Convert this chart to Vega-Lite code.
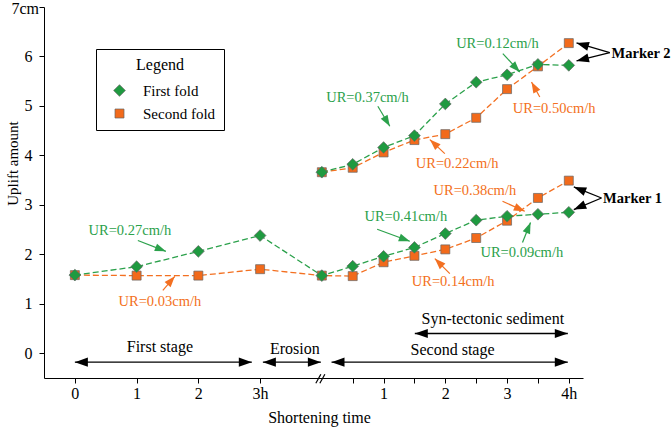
{
  "$schema": "https://vega.github.io/schema/vega-lite/v6.json",
  "width": 539,
  "height": 371,
  "autosize": {"type": "none"},
  "padding": {"left": 44, "top": 7, "right": 88, "bottom": 52},
  "background": "white",
  "config": {
    "view": {"stroke": null},
    "font": "Liberation Serif",
    "axis": {"grid": false, "domainColor": "black", "tickColor": "black", "labelColor": "black", "titleColor": "black", "titleFontWeight": "normal", "labelFont": "Liberation Serif", "titleFont": "Liberation Serif"}
  },
  "datasets": {
    "series": [
      {"series": "Second fold", "grp": "S-low", "t": 0, "y": 1.58},
      {"series": "Second fold", "grp": "S-low", "t": 1, "y": 1.57},
      {"series": "Second fold", "grp": "S-low", "t": 2, "y": 1.57},
      {"series": "Second fold", "grp": "S-low", "t": 3, "y": 1.70},
      {"series": "Second fold", "grp": "S-low", "t": 4, "y": 1.57},
      {"series": "Second fold", "grp": "S-low", "t": 4.5, "y": 1.56},
      {"series": "Second fold", "grp": "S-low", "t": 5, "y": 1.84},
      {"series": "Second fold", "grp": "S-low", "t": 5.5, "y": 1.97},
      {"series": "Second fold", "grp": "S-low", "t": 6, "y": 2.10},
      {"series": "Second fold", "grp": "S-low", "t": 6.5, "y": 2.33},
      {"series": "Second fold", "grp": "S-low", "t": 7, "y": 2.68},
      {"series": "Second fold", "grp": "S-low", "t": 7.5, "y": 3.14},
      {"series": "Second fold", "grp": "S-low", "t": 8, "y": 3.49},
      {"series": "Second fold", "grp": "S-up", "t": 4, "y": 3.66},
      {"series": "Second fold", "grp": "S-up", "t": 4.5, "y": 3.75},
      {"series": "Second fold", "grp": "S-up", "t": 5, "y": 4.06},
      {"series": "Second fold", "grp": "S-up", "t": 5.5, "y": 4.31},
      {"series": "Second fold", "grp": "S-up", "t": 6, "y": 4.43},
      {"series": "Second fold", "grp": "S-up", "t": 6.5, "y": 4.76},
      {"series": "Second fold", "grp": "S-up", "t": 7, "y": 5.34},
      {"series": "Second fold", "grp": "S-up", "t": 7.5, "y": 5.80},
      {"series": "Second fold", "grp": "S-up", "t": 8, "y": 6.27},
      {"series": "First fold", "grp": "F-low", "t": 0, "y": 1.58},
      {"series": "First fold", "grp": "F-low", "t": 1, "y": 1.75},
      {"series": "First fold", "grp": "F-low", "t": 2, "y": 2.06},
      {"series": "First fold", "grp": "F-low", "t": 3, "y": 2.38},
      {"series": "First fold", "grp": "F-low", "t": 4, "y": 1.57},
      {"series": "First fold", "grp": "F-low", "t": 4.5, "y": 1.76},
      {"series": "First fold", "grp": "F-low", "t": 5, "y": 1.96},
      {"series": "First fold", "grp": "F-low", "t": 5.5, "y": 2.14},
      {"series": "First fold", "grp": "F-low", "t": 6, "y": 2.42},
      {"series": "First fold", "grp": "F-low", "t": 6.5, "y": 2.69},
      {"series": "First fold", "grp": "F-low", "t": 7, "y": 2.77},
      {"series": "First fold", "grp": "F-low", "t": 7.5, "y": 2.81},
      {"series": "First fold", "grp": "F-low", "t": 8, "y": 2.85},
      {"series": "First fold", "grp": "F-up", "t": 4, "y": 3.66},
      {"series": "First fold", "grp": "F-up", "t": 4.5, "y": 3.82},
      {"series": "First fold", "grp": "F-up", "t": 5, "y": 4.16},
      {"series": "First fold", "grp": "F-up", "t": 5.5, "y": 4.40},
      {"series": "First fold", "grp": "F-up", "t": 6, "y": 5.04},
      {"series": "First fold", "grp": "F-up", "t": 6.5, "y": 5.48},
      {"series": "First fold", "grp": "F-up", "t": 7, "y": 5.63},
      {"series": "First fold", "grp": "F-up", "t": 7.5, "y": 5.84},
      {"series": "First fold", "grp": "F-up", "t": 8, "y": 5.82}
    ],
    "ur": [
      {"series": "First fold", "label": "UR=0.27cm/h", "lx": 0.891, "ly": 2.48, "tx": 1.02, "ty": 2.28, "hx": 1.474, "hy": 2.06, "angle": 111},
      {"series": "Second fold", "label": "UR=0.03cm/h", "lx": 1.377, "ly": 1.03, "tx": 1.425, "ty": 1.27, "hx": 1.619, "hy": 1.556, "angle": 41},
      {"series": "First fold", "label": "UR=0.37cm/h", "lx": 4.74, "ly": 5.16, "tx": 4.907, "ty": 4.993, "hx": 5.101, "hy": 4.589, "angle": 149},
      {"series": "First fold", "label": "UR=0.12cm/h", "lx": 6.845, "ly": 6.26, "tx": 6.931, "ty": 6.058, "hx": 7.206, "hy": 5.686, "angle": 137},
      {"series": "Second fold", "label": "UR=0.50cm/h", "lx": 7.762, "ly": 4.93, "tx": 7.53, "ty": 5.181, "hx": 7.396, "hy": 5.484, "angle": 331},
      {"series": "Second fold", "label": "UR=0.22cm/h", "lx": 6.191, "ly": 3.83, "tx": 5.992, "ty": 4.037, "hx": 5.749, "hy": 4.32, "angle": 313},
      {"series": "Second fold", "label": "UR=0.38cm/h", "lx": 6.478, "ly": 3.28, "tx": 6.926, "ty": 3.073, "hx": 7.287, "hy": 2.871, "angle": 114},
      {"series": "First fold", "label": "UR=0.09cm/h", "lx": 7.239, "ly": 2.02, "tx": 7.25, "ty": 2.238, "hx": 7.38, "hy": 2.642, "angle": 22},
      {"series": "First fold", "label": "UR=0.41cm/h", "lx": 5.36, "ly": 2.75, "tx": 4.896, "ty": 2.507, "hx": 5.425, "hy": 2.264, "angle": 110},
      {"series": "Second fold", "label": "UR=0.14cm/h", "lx": 6.126, "ly": 1.45, "tx": 6.073, "ty": 1.611, "hx": 5.83, "hy": 1.914, "angle": 315}
    ],
    "stages": [
      {"label": "First stage", "x": 1.377, "y": 0.12},
      {"label": "Erosion", "x": 3.563, "y": 0.08},
      {"label": "Second stage", "x": 6.117, "y": 0.07},
      {"label": "Syn-tectonic sediment", "x": 6.769, "y": 0.70}
    ],
    "spans": [
      {"x1": 0, "x2": 2.866, "y": -0.18},
      {"x1": 3.045, "x2": 3.984, "y": -0.18},
      {"x1": 4.157, "x2": 7.984, "y": -0.18},
      {"x1": 5.506, "x2": 7.984, "y": 0.40}
    ],
    "markers": [
      {"jx": 8.664, "jy": 6.079, "hx": 8.125, "hy": 6.273, "angle": 286},
      {"jx": 8.664, "jy": 6.079, "hx": 8.125, "hy": 5.909, "angle": 256},
      {"jx": 8.53, "jy": 3.139, "hx": 8.081, "hy": 3.362, "angle": 292},
      {"jx": 8.53, "jy": 3.139, "hx": 8.081, "hy": 2.905, "angle": 247}
    ],
    "mlabels": [
      {"label": "Marker 2", "x": 8.692, "y": 6.05},
      {"label": "Marker 1", "x": 8.555, "y": 3.11}
    ],
    "unitlabel": [
      {"label": "7cm", "x": -0.5, "y": 7}
    ],
    "breaks": [
      {"x": 3.903, "y": -0.606, "x2": 3.984, "y2": -0.424},
      {"x": 3.968, "y": -0.606, "x2": 4.049, "y2": -0.424}
    ]
  },
  "layer": [
    {
      "data": {"name": "series"},
      "mark": {"type": "line", "strokeDash": [6, 3], "strokeWidth": 1.3},
      "encoding": {
        "x": {
          "field": "t", "type": "quantitative",
          "scale": {"domain": [-0.5, 8.23], "nice": false, "zero": false},
          "axis": {
            "values": [0, 1, 2, 3, 4.5, 5, 5.5, 6, 6.5, 7, 7.5, 8],
            "labelExpr": "datum.value == 3 ? '3h' : datum.value == 8 ? '4h' : datum.value < 4 ? format(datum.value, 'd') : (datum.value % 1 == 0 ? format(datum.value - 4, 'd') : '')",
            "title": "Shortening time",
            "titleX": 275, "titleY": 39, "titleBaseline": "middle", "titleAlign": "center",
            "titleFontSize": 16, "labelFontSize": 16, "tickSize": 5, "labelPadding": 2,
            "labelFlush": false, "labelOverlap": false
          }
        },
        "y": {
          "field": "y", "type": "quantitative",
          "scale": {"domain": [-0.5, 7], "nice": false, "zero": false},
          "axis": {
            "values": [0, 1, 2, 3, 4, 5, 6, 7],
            "labelExpr": "datum.value == 7 ? '' : format(datum.value, 'd')",
            "title": "Uplift amount",
            "titleX": -32, "titleY": 156, "titleAngle": -90, "titleAlign": "center", "titleBaseline": "middle",
            "titleFontSize": 15, "labelFontSize": 16, "tickSize": 5, "labelPadding": 7,
            "labelFlush": false, "labelOverlap": false
          }
        },
        "stroke": {"field": "series", "type": "nominal", "legend": null,
          "scale": {"domain": ["Second fold", "First fold"], "range": ["#f37021", "#2ba14b"]}},
        "detail": {"field": "grp"},
        "order": {"field": "t"}
      }
    },
    {
      "data": {"name": "series"},
      "mark": {"type": "point", "filled": true, "size": 81, "opacity": 1, "stroke": "#666666", "strokeWidth": 0.7},
      "encoding": {
        "x": {"field": "t", "type": "quantitative"},
        "y": {"field": "y", "type": "quantitative"},
        "color": {"field": "series", "type": "nominal",
          "scale": {"domain": ["First fold", "Second fold"], "range": ["#1f9a40", "#f26a1b"]},
          "legend": {"title": "Legend", "orient": "none", "legendX": 52, "legendY": 42,
            "strokeColor": "black", "fillColor": "white", "padding": 8, "titleAnchor": "middle",
            "titleFont": "Liberation Serif", "titleFontSize": 16, "titleFontWeight": "normal", "titleColor": "black", "titlePadding": 10,
            "labelFont": "Liberation Serif", "labelFontSize": 15, "labelColor": "black", "labelOffset": 16,
            "symbolOffset": 8, "symbolSize": 81, "symbolStrokeColor": "#666666", "symbolStrokeWidth": 0.7, "rowPadding": 7}},
        "shape": {"field": "series", "type": "nominal",
          "scale": {"domain": ["First fold", "Second fold"], "range": ["M0,-1.3L1.3,0L0,1.3L-1.3,0Z", "square"]},
          "legend": {"title": "Legend", "orient": "none", "legendX": 52, "legendY": 42,
            "strokeColor": "black", "fillColor": "white", "padding": 8, "titleAnchor": "middle",
            "titleFont": "Liberation Serif", "titleFontSize": 16, "titleFontWeight": "normal", "titleColor": "black", "titlePadding": 10,
            "labelFont": "Liberation Serif", "labelFontSize": 15, "labelColor": "black", "labelOffset": 16,
            "symbolOffset": 8, "symbolSize": 81, "symbolStrokeColor": "#666666", "symbolStrokeWidth": 0.7, "rowPadding": 7}}
      }
    },
    {
      "data": {"name": "ur"},
      "mark": {"type": "rule", "strokeWidth": 1.2},
      "encoding": {
        "x": {"field": "tx", "type": "quantitative"},
        "y": {"field": "ty", "type": "quantitative"},
        "x2": {"field": "hx"},
        "y2": {"field": "hy"},
        "stroke": {"field": "series", "type": "nominal", "legend": null}
      }
    },
    {
      "data": {"name": "ur"},
      "mark": {"type": "point", "shape": "M0,0L-0.36,1L0.36,1Z", "filled": true, "size": 484, "opacity": 1, "strokeWidth": 0},
      "encoding": {
        "x": {"field": "hx", "type": "quantitative"},
        "y": {"field": "hy", "type": "quantitative"},
        "angle": {"field": "angle", "type": "quantitative", "scale": null},
        "fill": {"field": "series", "type": "nominal", "legend": null,
          "scale": {"domain": ["Second fold", "First fold"], "range": ["#f37021", "#2ba14b"]}}
      }
    },
    {
      "data": {"name": "ur"},
      "mark": {"type": "text", "fontSize": 14.5, "font": "Liberation Serif", "align": "center", "baseline": "middle"},
      "encoding": {
        "x": {"field": "lx", "type": "quantitative"},
        "y": {"field": "ly", "type": "quantitative"},
        "text": {"field": "label"},
        "fill": {"field": "series", "type": "nominal", "legend": null}
      }
    },
    {
      "data": {"name": "stages"},
      "mark": {"type": "text", "fontSize": 16, "font": "Liberation Serif", "align": "center", "baseline": "middle", "color": "black"},
      "encoding": {
        "x": {"field": "x", "type": "quantitative"},
        "y": {"field": "y", "type": "quantitative"},
        "text": {"field": "label"}
      }
    },
    {
      "data": {"name": "unitlabel"},
      "mark": {"type": "text", "fontSize": 16, "font": "Liberation Serif", "align": "right", "baseline": "middle", "color": "black", "dx": -5, "dy": 1.5},
      "encoding": {
        "x": {"field": "x", "type": "quantitative"},
        "y": {"field": "y", "type": "quantitative"},
        "text": {"field": "label"}
      }
    },
    {
      "data": {"name": "spans"},
      "mark": {"type": "rule", "strokeWidth": 1.3, "color": "black"},
      "encoding": {
        "x": {"field": "x1", "type": "quantitative"},
        "x2": {"field": "x2"},
        "y": {"field": "y", "type": "quantitative"}
      }
    },
    {
      "data": {"name": "spans"},
      "mark": {"type": "point", "shape": "M0,0L-0.35,1L0.35,1Z", "filled": true, "size": 676, "opacity": 1, "color": "black", "strokeWidth": 0, "angle": 270},
      "encoding": {
        "x": {"field": "x1", "type": "quantitative"},
        "y": {"field": "y", "type": "quantitative"}
      }
    },
    {
      "data": {"name": "spans"},
      "mark": {"type": "point", "shape": "M0,0L-0.35,1L0.35,1Z", "filled": true, "size": 676, "opacity": 1, "color": "black", "strokeWidth": 0, "angle": 90},
      "encoding": {
        "x": {"field": "x2", "type": "quantitative"},
        "y": {"field": "y", "type": "quantitative"}
      }
    },
    {
      "data": {"name": "markers"},
      "mark": {"type": "rule", "strokeWidth": 1.3, "color": "black"},
      "encoding": {
        "x": {"field": "jx", "type": "quantitative"},
        "y": {"field": "jy", "type": "quantitative"},
        "x2": {"field": "hx"},
        "y2": {"field": "hy"}
      }
    },
    {
      "data": {"name": "markers"},
      "mark": {"type": "point", "shape": "M0,0L-0.36,1L0.36,1Z", "filled": true, "size": 620, "opacity": 1, "color": "black", "strokeWidth": 0},
      "encoding": {
        "x": {"field": "hx", "type": "quantitative"},
        "y": {"field": "hy", "type": "quantitative"},
        "angle": {"field": "angle", "type": "quantitative", "scale": null}
      }
    },
    {
      "data": {"name": "mlabels"},
      "mark": {"type": "text", "fontSize": 14.5, "font": "Liberation Serif", "fontWeight": "bold", "align": "left", "baseline": "middle", "color": "black"},
      "encoding": {
        "x": {"field": "x", "type": "quantitative"},
        "y": {"field": "y", "type": "quantitative"},
        "text": {"field": "label"}
      }
    },
    {
      "data": {"name": "breaks"},
      "mark": {"type": "rule", "strokeWidth": 1.2, "color": "black"},
      "encoding": {
        "x": {"field": "x", "type": "quantitative"},
        "y": {"field": "y", "type": "quantitative"},
        "x2": {"field": "x2"},
        "y2": {"field": "y2"}
      }
    }
  ]
}
